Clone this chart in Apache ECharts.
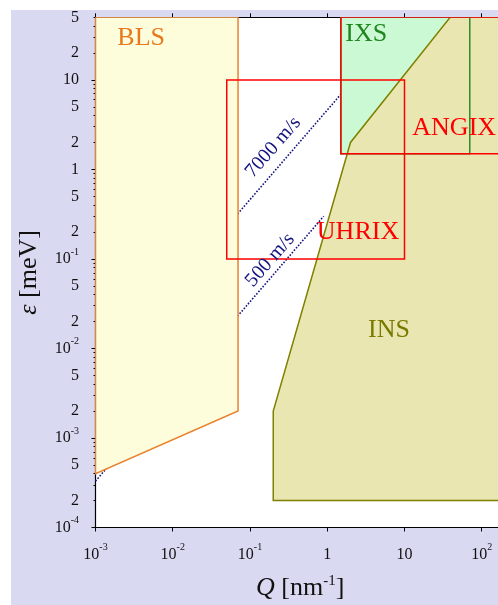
<!DOCTYPE html>
<html>
<head>
<meta charset="utf-8">
<script src="https://cdn.jsdelivr.net/npm/echarts@6/dist/echarts.min.js"></script>
<style>
html, body { margin: 0; padding: 0; background: #fff; overflow: hidden; }
#main { position: absolute; left: 11px; top: 10px; width: 487px; height: 595px; }
</style>
</head>
<body>
<div id="main"></div>
<script>
// axis ticks / labels
var qTicks = [0.001, 0.01, 0.1, 1, 10, 100];
var qTickLabels = ['10{s|-3}', '10{s|-2}', '10{s|-1}', '1', '10', '10{s|2}'];
var eTicks = [1e-4, 2e-4, 5e-4, 1e-3, 2e-3, 5e-3, 0.01, 0.02, 0.05, 0.1, 0.2, 0.5, 1, 2, 5, 10, 20, 50];
var eTickLabels = ['10{s|-4}', '2', '5', '10{s|-3}', '2', '5', '10{s|-2}', '2', '5', '10{s|-1}', '2', '5', '1', '2', '5', '10', '2', '5'];
var eDecades = [1e-4, 1e-3, 0.01, 0.1, 1, 10];
var eMinor = [];
eDecades.forEach(function (d) {
    for (var k = 2; k <= 9; k++) {
        if (d * k <= 50) eMinor.push(d * k);
    }
});

// regions (Q in nm^-1, eps in meV)
var blsQ = [0.001, 0.07, 0.07, 0.001];
var blsE = [50, 50, 0.002, 0.0004];
var ixsQ = [1.5, 70, 70, 1.5];
var ixsE = [1.5, 1.5, 50, 50];
var insQ = [0.2, 0.2, 2, 39, 400, 400];
var insE = [0.0002, 0.002, 2, 50, 50, 0.0002];
var uhrixQ = [0.05, 10, 10, 0.05];
var uhrixE = [0.1, 0.1, 10, 10];
var angixQ = [1.5, 1000, 1000, 1.5];
var angixE = [1.5, 1.5, 50, 50];

// sound velocity lines
var v7000Q = [0.001, 1.5];
var v7000E = [0.0046, 6.9];
var v500Q = [0.001, 0.9];
var v500E = [0.00033, 0.30];

var FF = '"Liberation Serif", "DejaVu Serif", serif';
var INK = '#111';
var NAVY = '#14147f';

function pairs(xs, ys) {
    return xs.map(function (x, i) { return [x, ys[i]]; });
}
function findIdx(list, v) {
    for (var i = 0; i < list.length; i++) {
        if (Math.abs(Math.log10(list[i]) - Math.log10(v)) < 1e-6) return i;
    }
    return -1;
}

function polygon(name, qs, es, style, z) {
    return {
        name: name,
        type: 'custom',
        clip: true,
        silent: true,
        z: z,
        data: pairs(qs, es),
        renderItem: function (params, api) {
            if (params.dataIndex !== 0) return;
            var pts = qs.map(function (q, i) { return api.coord([q, es[i]]); });
            return { type: 'polygon', shape: { points: pts }, style: style };
        }
    };
}

function dotted(name, qs, es) {
    return {
        name: name,
        type: 'line',
        z: 1,
        data: pairs(qs, es),
        symbol: 'none',
        silent: true,
        lineStyle: { type: 'dotted', width: 1.6, color: NAVY }
    };
}

var supRich = { s: { fontSize: 10, fontFamily: FF, color: INK, verticalAlign: 'top', lineHeight: 10 } };

var chart = echarts.init(document.getElementById('main'));

var option = {
    animation: false,
    backgroundColor: '#d9d9f1',
    textStyle: { fontFamily: FF },
    grid: {
        left: 84.5, top: 7.3, right: -7, bottom: 77.5,
        show: true, backgroundColor: '#fff', borderWidth: 0,
        outerBoundsMode: 'none'
    },
    xAxis: [
        {
            type: 'log', logBase: 10, min: 0.001, max: 200, position: 'bottom',
            axisLine: { show: true, onZero: false, lineStyle: { color: '#000', width: 1.2 } },
            axisTick: { show: true, inside: false, length: 4, customValues: qTicks, lineStyle: { color: '#000' } },
            axisLabel: {
                customValues: qTicks, margin: 15, fontSize: 16, lineHeight: 24, color: INK, fontFamily: FF,
                formatter: function (v) { return qTickLabels[findIdx(qTicks, v)]; },
                rich: supRich
            },
            splitLine: { show: false },
            name: '{i|Q} [nm{s|-1}]', nameLocation: 'middle', nameGap: 46,
            nameTextStyle: {
                fontSize: 26, fontFamily: FF, color: INK, lineHeight: 30,
                rich: {
                    i: { fontStyle: 'italic', fontSize: 26, fontFamily: FF, color: INK },
                    s: { fontSize: 15, fontFamily: FF, color: INK, verticalAlign: 'top', lineHeight: 15 }
                }
            }
        },
        {
            type: 'log', logBase: 10, min: 0.001, max: 200, position: 'top',
            axisLine: { show: true, onZero: false, lineStyle: { color: '#000', width: 1.2 } },
            axisTick: { show: true, inside: false, length: 4, customValues: qTicks, lineStyle: { color: '#000' } },
            axisLabel: { show: false },
            splitLine: { show: false }
        }
    ],
    yAxis: [
        {
            type: 'log', logBase: 10, min: 1e-4, max: 50, position: 'left',
            axisLine: { show: true, onZero: false, lineStyle: { color: '#000', width: 1.2 } },
            axisTick: { show: true, inside: false, length: 4, customValues: eDecades, lineStyle: { color: '#000' } },
            axisLabel: {
                customValues: eTicks, margin: 16.5, fontSize: 16, lineHeight: 24, color: INK, fontFamily: FF,
                formatter: function (v) { return eTickLabels[findIdx(eTicks, v)]; },
                rich: supRich
            },
            splitLine: { show: false },
            name: '{i|ε} [meV]', nameLocation: 'middle', nameGap: 52, nameRotate: 90,
            nameTextStyle: {
                fontSize: 26, fontFamily: FF, color: INK, lineHeight: 28,
                rich: { i: { fontStyle: 'italic', fontSize: 26, fontFamily: FF, color: INK } }
            }
        },
        {
            type: 'log', logBase: 10, min: 1e-4, max: 50, position: 'left',
            axisLine: { show: false },
            axisTick: { show: true, inside: false, length: 2, customValues: eMinor, lineStyle: { color: '#000' } },
            axisLabel: { show: false },
            splitLine: { show: false }
        }
    ],
    series: [
        dotted('7000 m/s', v7000Q, v7000E),
        dotted('500 m/s', v500Q, v500E),
        polygon('BLS', blsQ, blsE, { fill: '#fdfddc', stroke: '#e8822e', lineWidth: 1.5 }, 2),
        polygon('IXS fill', ixsQ, ixsE, { fill: '#cbf9d4', stroke: null }, 3),
        polygon('INS', insQ, insE, { fill: '#e9e6b1', stroke: '#808000', lineWidth: 1.5 }, 4),
        polygon('IXS', ixsQ, ixsE, { fill: null, stroke: '#2e8b2e', lineWidth: 1.5 }, 5),
        polygon('UHRIX', uhrixQ, uhrixE, { fill: null, stroke: '#ff0000', lineWidth: 1.5 }, 6),
        polygon('ANGIX', angixQ, angixE, { fill: null, stroke: '#ff0000', lineWidth: 1.5 }, 6),
        {
            type: 'scatter',
            z: 10,
            symbolSize: 0,
            silent: true,
            label: {
                show: true, position: 'inside', fontFamily: FF, fontSize: 26,
                textBorderWidth: 0, opacity: 1
            },
            data: [
                { value: [0.0039, 29], label: { formatter: 'BLS', color: '#e8781e' } },
                { value: [3.2, 32], label: { formatter: 'IXS', color: '#1f861f' } },
                { value: [44, 2.9], label: { formatter: 'ANGIX', color: '#ff0000' } },
                { value: [2.5, 0.2], label: { formatter: 'UHRIX', color: '#ff0000' } },
                { value: [6.3, 0.016], label: { formatter: 'INS', color: '#7a7a00' } },
                { value: [0.2, 1.77], label: { formatter: '7000 m/s', color: NAVY, fontSize: 20, rotate: 49 } },
                { value: [0.182, 0.097], label: { formatter: '500 m/s', color: NAVY, fontSize: 20, rotate: 49 } }
            ]
        }
    ]
};

chart.setOption(option);
</script>
</body>
</html>
